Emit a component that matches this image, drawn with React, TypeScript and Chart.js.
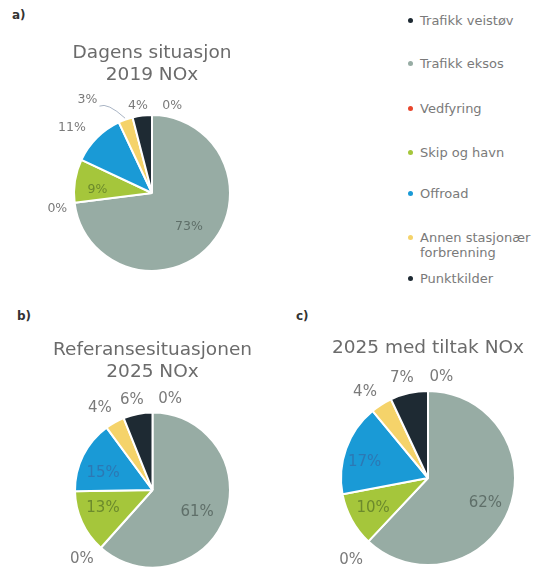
import React, { useEffect, useRef } from 'react';
import { Chart, registerables } from 'chart.js';

Chart.register(...registerables);

// ---- data ----
const categories = [
  'Trafikk veistøv',
  'Trafikk eksos',
  'Vedfyring',
  'Skip og havn',
  'Offroad',
  'Annen stasjonær forbrenning',
  'Punktkilder',
];
const legendLines = [
  ['Trafikk veistøv'],
  ['Trafikk eksos'],
  ['Vedfyring'],
  ['Skip og havn'],
  ['Offroad'],
  ['Annen stasjonær', 'forbrenning'],
  ['Punktkilder'],
];
const valuesA = [0, 73, 0, 9, 11, 3, 4];
const valuesB = [0, 61, 0, 13, 15, 4, 6];
const valuesC = [0, 62, 0, 10, 17, 4, 7];
const titleA = ['Dagens situasjon', '2019 NOx'];
const titleB = ['Referansesituasjonen', '2025 NOx'];
const titleC = ['2025 med tiltak NOx'];

// ---- styles ----
const colors = ['#1e2a33', '#97aca4', '#e8452c', '#a5c63b', '#1a9ad6', '#f5d36a', '#1e2a33'];
const insideLabelColors = ['#5f6f69', '#5f6f69', '#5f6f69', '#6c8a2c', '#2c78b4', '#8a7a3a', '#cccccc'];
const outsideLabelColor = '#7a7a7a';
const FONT = '"DejaVu Sans", Verdana, sans-serif';

// label placement: [radius factor, angular shift in degrees]
const placeA: [number, number][] = [[1.145, 13], [0.64, 1], [1.23, -2], [0.7, -6], [1.32, -6], [1.45, -15], [1.13, -2]];
const placeB: [number, number][] = [[1.19, 11], [0.64, 5], [1.27, 4], [0.68, 4.5], [0.675, -7], [1.26, -3.5], [1.19, -2]];
const placeC: [number, number][] = [[1.17, 7.5], [0.72, 2], [1.29, 0], [0.72, 0], [0.75, -6], [1.22, -4], [1.19, -2]];
const leaderA = [false, false, false, false, false, true, false];

function makeLabelPlugin(place: [number, number][], size: number, leader?: boolean[]) {
  return {
    id: 'pieLabels',
    afterDatasetsDraw(chart: any) {
      const meta = chart.getDatasetMeta(0);
      const data = chart.data.datasets[0].data as number[];
      const ctx = chart.ctx as CanvasRenderingContext2D;
      ctx.save();
      ctx.font = `${size}px ${FONT}`;
      ctx.textAlign = 'center';
      ctx.textBaseline = 'middle';
      meta.data.forEach((arc: any, i: number) => {
        const p = arc.getProps(['x', 'y', 'startAngle', 'endAngle', 'outerRadius'], true);
        const [f, shift] = place[i];
        const mid = (p.startAngle + p.endAngle) / 2;
        const a = mid + (shift * Math.PI) / 180;
        const lx = p.x + Math.cos(a) * p.outerRadius * f;
        const ly = p.y + Math.sin(a) * p.outerRadius * f;
        if (leader && leader[i]) {
          const ex = p.x + Math.cos(mid) * p.outerRadius * 1.02;
          const ey = p.y + Math.sin(mid) * p.outerRadius * 1.02;
          ctx.strokeStyle = '#a9b4c4';
          ctx.lineWidth = 1;
          ctx.beginPath();
          ctx.moveTo(lx + 12, ly + 6);
          ctx.quadraticCurveTo(lx + 20, ly + 2, ex, ey);
          ctx.stroke();
        }
        ctx.fillStyle = f < 1 ? insideLabelColors[i] : outsideLabelColor;
        ctx.fillText(`${data[i]}%`, lx, ly);
      });
      ctx.restore();
    },
  };
}

type PieProps = {
  left: number;
  top: number;
  width: number;
  height: number;
  values: number[];
  title: string[];
  padTop: number;
  padBottom: number;
  radius: number;
  labelSize: number;
  place: [number, number][];
  leader?: boolean[];
};

function PieChart(props: PieProps) {
  const ref = useRef<HTMLCanvasElement | null>(null);
  useEffect(() => {
    if (!ref.current) return;
    const chart = new Chart(ref.current, {
      type: 'pie',
      data: {
        labels: categories,
        datasets: [
          {
            data: props.values,
            backgroundColor: colors,
            borderColor: '#ffffff',
            borderWidth: 2,
            radius: props.radius,
          } as any,
        ],
      },
      options: {
        responsive: false,
        animation: false,
        layout: { padding: 0 },
        plugins: {
          legend: { display: false },
          tooltip: { enabled: false },
          title: {
            display: true,
            text: props.title,
            color: '#6b6b6b',
            font: { family: FONT, size: 18.5, weight: 'normal', lineHeight: 1.19 },
            padding: { top: props.padTop, bottom: props.padBottom },
          },
        },
      },
      plugins: [makeLabelPlugin(props.place, props.labelSize, props.leader)],
    });
    return () => chart.destroy();
  }, []);
  return (
    <canvas
      ref={ref}
      width={props.width}
      height={props.height}
      style={{ position: 'absolute', left: props.left, top: props.top, width: props.width, height: props.height }}
    />
  );
}

const legendY = [20, 63, 108, 152, 193, 245, 278];

export default function App() {
  return (
    <div
      style={{
        position: 'absolute',
        left: 0,
        top: 0,
        width: 546,
        height: 568,
        background: '#ffffff',
        overflow: 'hidden',
        fontFamily: FONT,
      }}
    >
      <div style={{ position: 'absolute', left: 12, top: 8, fontSize: 12, fontWeight: 'bold', color: '#333' }}>a)</div>
      <div style={{ position: 'absolute', left: 17, top: 309, fontSize: 12, fontWeight: 'bold', color: '#333' }}>b)</div>
      <div style={{ position: 'absolute', left: 296, top: 309, fontSize: 12, fontWeight: 'bold', color: '#333' }}>c)</div>

      <PieChart left={0} top={0} width={304} height={290} values={valuesA} title={titleA}
        padTop={42} padBottom={10} radius={78} labelSize={12.5} place={placeA} leader={leaderA} />
      <PieChart left={0} top={300} width={305} height={268} values={valuesB} title={titleB}
        padTop={39} padBottom={29} radius={77.5} labelSize={15} place={placeB} />
      <PieChart left={316} top={300} width={224} height={268} values={valuesC} title={titleC}
        padTop={37} padBottom={29} radius={87} labelSize={15} place={placeC} />

      {legendLines.map((lines, i) => (
        <div key={i} style={{ position: 'absolute', left: 408, top: legendY[i] - (lines.length * 15) / 2, fontSize: 13, lineHeight: '15px', color: '#7a7a7a' }}>
          <span style={{ position: 'absolute', left: 0, top: 5, width: 5, height: 5, borderRadius: 3, background: colors[i] }} />
          <div style={{ marginLeft: 12, whiteSpace: 'nowrap' }}>
            {lines.map((t, j) => (
              <div key={j}>{t}</div>
            ))}
          </div>
        </div>
      ))}
    </div>
  );
}
